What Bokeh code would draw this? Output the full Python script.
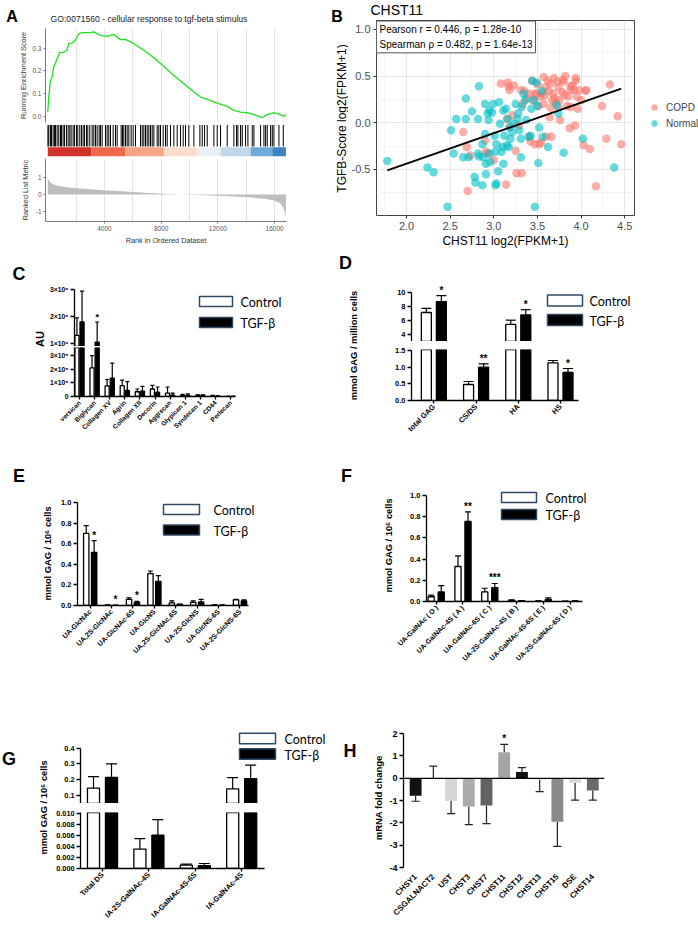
import numpy as np
from bokeh.plotting import figure
from bokeh.layouts import row, column
from bokeh.models import (Range1d, FixedTicker, Label, BoxAnnotation, Span, Legend,
                          LegendItem, Grid)
from bokeh.core.properties import value
from bokeh.embed import file_html
from bokeh.resources import INLINE

FONT = "Liberation Sans"
LEGF = "Lato"

# ---------------- Panel A data (GSEA) ----------------
es_rank = [0, 70, 190, 300, 420, 660, 850, 1130, 1360, 1480, 1720, 1950, 2190, 2420, 3010,
           3250, 3720, 4190, 4660, 5130, 5480, 6070, 6780, 7480, 8190, 8890, 9600, 10310,
           10780, 11250, 11950, 12660, 13130, 13600, 14070, 14540, 15130, 15480, 15950,
           16420, 16660, 16800]
es_score = [0.018, 0.084, 0.157, 0.17, 0.216, 0.253, 0.28, 0.282, 0.29, 0.32, 0.322, 0.334,
            0.363, 0.368, 0.368, 0.371, 0.356, 0.351, 0.36, 0.337, 0.338, 0.319, 0.29, 0.257,
            0.219, 0.179, 0.143, 0.106, 0.084, 0.074, 0.057, 0.043, 0.025, 0.018, 0.015,
            0.007, -0.007, 0.007, 0.015, 0.007, -0.001, 0.007]
hit_rank = [10, 71, 188, 259, 376, 471, 541, 659, 776, 894, 965, 1082, 1177, 1318, 1435,
            1553, 1647, 1788, 1882, 2024, 2118, 2259, 2377, 2494, 2588, 2730, 2824, 2965,
            3130, 3247, 3365, 3482, 3624, 3718, 3835, 4071, 4188, 4306, 4424, 4612, 4776,
            4894, 5177, 5271, 5365, 5482, 5600, 5718, 5882, 6024, 6188, 6541, 6659, 6777,
            6894, 7012, 7130, 7247, 7365, 7483, 7718, 7835, 7953, 8141, 8306, 8424, 8659,
            8895, 9130, 9365, 9553, 9718, 9953, 10306, 10730, 10895, 11060, 11248, 11718,
            11953, 12189, 12659, 13130, 13318, 13412, 13600, 13718, 13953, 14118, 14424,
            14542, 15012, 15248, 15365, 15483, 15718, 15836, 15953, 16306, 16612]
cbar_start = [0, 3059, 5482, 8188, 10542, 12189, 14306, 15836]
cbar_end = [3059, 5482, 8188, 10542, 12189, 14306, 15836, 16800]
cbar_color = ["#D0312A", "#EF6A4D", "#F5A586", "#FBDDCF", "#ECEEF6", "#C0D8EA", "#6EABD8", "#3E82C1"]
metric_rank = [0, 50, 150, 300, 600, 1000, 1500, 2500, 3500, 4500, 5500, 6500, 7500, 8500,
               9500, 10500, 11500, 12500, 13500, 14500, 15500, 16000, 16400, 16600, 16750, 16800]
metric_val = [1.0, 0.85, 0.72, 0.62, 0.52, 0.46, 0.40, 0.33, 0.27, 0.22, 0.17, 0.12, 0.07,
              0.03, 0.0, -0.03, -0.06, -0.09, -0.13, -0.18, -0.27, -0.36, -0.5, -0.75, -1.1, -1.3]
a_rank_ticks = [4000, 8000, 12000, 16000]
a_grid_ticks = [2000, 4000, 6000, 8000, 10000, 12000, 14000, 16000]
a_es_ticks = [0.0, 0.1, 0.2, 0.3]
a_metric_ticks = [-1, 0, 1]

# ---------------- Panel B data (scatter) ----------------
normal_x = [1.78, 2.24, 2.31, 2.47, 2.51, 2.54, 2.57, 2.65, 2.68, 2.68, 2.75, 2.82, 2.83, 2.78,
            2.79, 2.82, 2.83, 2.87, 2.87, 2.90, 2.91, 2.91, 2.93, 2.94, 2.95, 2.96, 2.98, 2.99,
            3.01, 3.02, 3.03, 3.05, 3.06, 3.07, 3.02, 3.09, 3.11, 3.11, 3.12, 3.14, 3.15, 3.16,
            3.17, 3.18, 3.19, 3.21, 3.23, 3.25, 3.27, 3.28, 3.29, 3.31, 3.31, 3.32, 3.34, 3.36,
            3.37, 3.40, 3.42, 3.43, 3.44, 3.46, 3.47, 3.49, 3.50, 3.51, 3.52, 3.55, 3.56, 3.62,
            3.72, 3.74, 3.80, 4.02, 4.38, 3.03, 3.10, 2.90, 2.95, 2.71, 2.88]
normal_y = [-0.41, -0.48, -0.53, -0.90, -0.08, -0.33, 0.04, -0.37, 0.26, 0.04, 0.12, 0.04, 0.39,
            -0.58, -0.64, -0.33, -0.36, -0.67, -0.23, 0.20, -0.44, -0.55, 0.10, 0.03, -0.33,
            -0.42, 0.11, 0.20, -0.14, -0.67, -0.65, -0.52, 0.22, -0.01, -0.31, -0.31, 0.13,
            -0.44, -0.14, 0.15, -0.24, 0.04, -0.26, -0.05, -0.17, -0.10, -0.01, 0.20, 0.04,
            0.10, -0.08, -0.37, -0.17, 0.17, 0.31, 0.24, 0.03, -0.15, -0.14, 0.15, 0.45, 0.24,
            -0.90, 0.43, 0.18, -0.43, -0.05, 0.34, -0.15, -0.26, 0.19, 0.10, -0.32, -0.17,
            -0.48, -0.23, -0.26, -0.12, 0.13, -0.37, -0.37]
copd_x = [2.65, 2.69, 2.70, 2.73, 2.90, 2.91, 2.93, 3.00, 3.08, 3.14, 3.16, 3.17, 3.18, 3.19,
          3.21, 3.23, 3.25, 3.26, 3.29, 3.31, 3.32, 3.33, 3.35, 3.38, 3.40, 3.41, 3.42, 3.44,
          3.45, 3.47, 3.47, 3.49, 3.50, 3.51, 3.52, 3.53, 3.54, 3.55, 3.57, 3.58, 3.59, 3.60,
          3.62, 3.63, 3.64, 3.65, 3.66, 3.67, 3.68, 3.69, 3.70, 3.71, 3.73, 3.74, 3.74, 3.75,
          3.76, 3.78, 3.79, 3.80, 3.81, 3.82, 3.84, 3.85, 3.87, 3.88, 3.88, 3.90, 3.92, 3.93,
          3.94, 3.94, 3.95, 3.96, 3.98, 4.00, 4.03, 4.05, 4.06, 4.10, 4.17, 4.24, 4.29, 4.33,
          4.42, 4.46, 3.57, 3.88, 3.15, 3.65]
copd_y = [-0.10, -0.26, -0.73, -0.35, -0.19, -0.31, -0.33, -0.40, 0.42, -0.66, 0.43, 0.39, 0.35,
          -0.04, 0.08, 0.40, -0.30, -0.54, -0.03, 0.35, -0.54, 0.20, 0.34, 0.26, 0.31, -0.15,
          -0.20, 0.45, 0.24, 0.31, -0.23, 0.31, 0.41, 0.18, -0.23, 0.28, -0.21, 0.32, 0.20,
          0.29, 0.38, -0.15, 0.45, 0.34, 0.06, 0.42, -0.15, 0.24, 0.31, 0.48, 0.26, 0.22, 0.44,
          0.38, 0.17, 0.24, 0.03, 0.33, 0.46, 0.44, 0.30, 0.50, 0.18, 0.28, -0.06, 0.17, 0.35,
          0.40, 0.35, -0.03, 0.48, 0.45, 0.28, 0.15, 0.35, 0.24, -0.24, 0.34, 0.35, -0.28,
          -0.68, 0.18, -0.17, 0.41, 0.07, -0.23, 0.49, 0.39, 0.04, 0.16]
fit_x = [1.78, 4.46]
fit_y = [-0.51, 0.365]
b_xticks = [2.0, 2.5, 3.0, 3.5, 4.0, 4.5]
b_xminor = [1.75, 2.25, 2.75, 3.25, 3.75, 4.25]
b_yticks = [-0.5, 0.0, 0.5, 1.0]
b_yminor = [-0.75, -0.25, 0.25, 0.75]
b_stats = "Pearson r = 0.446, p = 1.28e-10\nSpearman \u03c1 = 0.482, p = 1.64e-13"
b_groups = ["COPD", "Normal"]
b_colors = ["#F8766D", "#00BFC4"]

# ---------------- Panel C data ----------------
c_cats = ["versican", "Biglycan", "Collagen XV", "Agrin", "Collagen XII", "Decorin",
          "Aggrecan", "Glypican 1", "Syndecan 1", "CD44", "Perlecan"]
c_ctrl = [1.3e6, 2.1e5, 0.78e5, 0.8e5, 0.35e5, 0.55e5, 0.25e5, 0.1e5, 0.08e5, 0.06e5, 0.01e5]
c_ctrl_err = [1.95e6, 3.0e5, 1.25e5, 1.2e5, 0.55e5, 0.82e5, 0.7e5, 0.15e5, 0.12e5, 0.09e5, 0.02e5]
c_tgf = [1.8e6, 1.05e6, 1.35e5, 0.45e5, 0.4e5, 0.32e5, 0.1e5, 0.08e5, 0.08e5, 0.02e5, 0.01e5]
c_tgf_err = [2.95e6, 1.8e6, 2.45e5, 1.1e5, 0.75e5, 0.7e5, 0.25e5, 0.2e5, 0.12e5, 0.04e5, 0.015e5]
c_sig = ["", "*", "", "", "", "", "", "", "", "", ""]
c_hi_ticks = [1e6, 2e6, 3e6]
c_hi_labels = ["1\u00d710\u2076", "2\u00d710\u2076", "3\u00d710\u2076"]
c_lo_ticks = [0, 1e5, 2e5, 3e5]
c_lo_labels = ["0", "1\u00d710\u2075", "2\u00d710\u2075", "3\u00d710\u2075"]

# ---------------- Panel D data ----------------
d_cats = ["total GAG", "CS/DS", "HA", "HS"]
d_ctrl = [7.1, 0.48, 5.4, 1.13]
d_ctrl_err = [7.7, 0.57, 6.0, 1.2]
d_tgf = [8.65, 1.0, 6.75, 0.84]
d_tgf_err = [9.5, 1.1, 7.5, 0.96]
d_sig = ["*", "**", "*", "*"]
d_hi_ticks = [4, 6, 8, 10]
d_lo_ticks = [0.0, 0.5, 1.0, 1.5]

# ---------------- Panel E data ----------------
e_cats = ["UA-GlcNAc", "UA,2S-GlcNAc", "UA-GlcNAc-6S", "UA-GlcNS", "UA,2S-GlcNAc,6S",
          "UA-2S-GlcNS", "UA-GlcNS-6S", "UA-2S-GlcNS-6S"]
e_ctrl = [0.70, 0.004, 0.06, 0.31, 0.025, 0.03, 0.005, 0.055]
e_ctrl_err = [0.775, 0.006, 0.075, 0.335, 0.045, 0.045, 0.007, 0.06]
e_tgf = [0.515, 0.002, 0.03, 0.235, 0.01, 0.035, 0.004, 0.045]
e_tgf_err = [0.63, 0.003, 0.04, 0.29, 0.013, 0.06, 0.006, 0.055]
e_sig = ["*", "*", "*", "", "", "", "", ""]
ef_ticks = [0.0, 0.2, 0.4, 0.6, 0.8, 1.0]

# ---------------- Panel F data ----------------
f_cats = ["UA-GalNAc ( O )", "UA-GalNAc-4S ( A )", "UA-GalNAc-6S ( C )",
          "UA-2S-GalNAc-4S ( B )", "UA-GalNAc-4S-6S ( E )", "UA-2S-GalNAc-6S ( D )"]
f_ctrl = [0.045, 0.33, 0.09, 0.01, 0.003, 0.002]
f_ctrl_err = [0.06, 0.43, 0.125, 0.015, 0.005, 0.003]
f_tgf = [0.09, 0.755, 0.13, 0.006, 0.02, 0.004]
f_tgf_err = [0.15, 0.845, 0.17, 0.009, 0.035, 0.006]
f_sig = ["", "**", "***", "", "", ""]

# ---------------- Panel G data ----------------
g_cats = ["Total DS", "IA-2S-GalNAc-4S", "IA-GalNAc-4S-6S", "IA-GalNAc-4S"]
g_ctrl = [0.145, 0.0035, 0.0006, 0.14]
g_ctrl_err = [0.218, 0.0054, 0.0008, 0.212]
g_tgf = [0.213, 0.006, 0.0005, 0.205]
g_tgf_err = [0.30, 0.0088, 0.0009, 0.292]
g_hi_ticks = [0.1, 0.2, 0.3, 0.4]
g_lo_ticks = [0.0, 0.002, 0.004, 0.006, 0.008, 0.010]

# ---------------- Panel H data ----------------
h_genes = ["CHSY1", "CSGALNACT2", "UST", "CHST3", "CHST7", "CHST11", "CHST12", "CHST13",
           "CHST15", "DSE", "CHST14"]
h_val = [-0.78, 0.0, -1.02, -1.27, -1.22, 1.17, 0.28, -0.05, -1.95, -0.2, -0.55]
h_err = [-1.03, 0.55, -1.58, -2.08, -2.03, 1.52, 0.48, -0.6, -3.05, -0.98, -0.98]
h_colors = ["#111111", "#bbbbbb", "#d6d6d6", "#ababab", "#626262", "#a4a4a4", "#111111",
            "#d2d2d2", "#8a8a8a", "#dadada", "#6a6a6a"]
h_sig = ["", "", "", "", "", "*", "", "", "", "", ""]
h_ticks = [-4, -3, -2, -1, 0, 1, 2]


# ---------------- helpers ----------------
def mkfig(w, h, xr, yr, l=0, r=0, t=0, b=0, xaxis=False, yaxis=False):
    p = figure(width=w, height=h, x_range=xr, y_range=yr, title=None,
               output_backend="svg", toolbar_location=None,
               x_axis_location="below" if xaxis else None,
               y_axis_location="left" if yaxis else None,
               min_border_left=l, min_border_right=r, min_border_top=t, min_border_bottom=b)
    p.outline_line_color = None
    p.background_fill_color = "white"
    p.border_fill_color = "white"
    p.grid.visible = False
    return p


def strip(w, h):
    return mkfig(w, h, Range1d(0, 1), Range1d(0, 1))


def lab(p, F, X, Y, text, size, bold=False, color="black", align="center",
        baseline="middle", angle=0, font=FONT, **kw):
    fl, fb = F
    p.add_layout(Label(x=X - fl, y=fb - Y, x_units="screen", y_units="screen", text=text,
                       text_font=font, text_font_size=f"{size}px",
                       text_font_style="bold" if bold else "normal", text_color=color,
                       text_align=align, text_baseline=baseline, angle=angle,
                       angle_units="deg", **kw))


def prism_y(p, ticks, labels, bounds, size):
    ax = p.yaxis[0]
    ax.ticker = FixedTicker(ticks=ticks, minor_ticks=[])
    ax.major_label_overrides = dict(zip(ticks, labels))
    ax.bounds = bounds
    ax.axis_line_width = 1.3
    ax.axis_line_color = "black"
    ax.major_tick_line_width = 1.3
    ax.major_tick_line_color = "black"
    ax.major_tick_in = 0
    ax.major_tick_out = 4
    ax.minor_tick_line_color = None
    ax.major_label_text_font = FONT
    ax.major_label_text_font_style = "bold"
    ax.major_label_text_font_size = f"{size}px"
    ax.major_label_text_color = "black"
    ax.major_label_standoff = 2


def prism_x(p, names, bounds, size, line=True):
    ax = p.xaxis[0]
    ticks = list(range(len(names)))
    ax.ticker = FixedTicker(ticks=ticks, minor_ticks=[])
    ax.major_label_overrides = {i: nm for i, nm in enumerate(names)}
    ax.bounds = bounds
    ax.major_label_orientation = np.pi / 4
    ax.major_label_text_font = FONT
    ax.major_label_text_font_style = "bold"
    ax.major_label_text_font_size = f"{size}px"
    ax.major_label_text_color = "black"
    ax.major_label_standoff = 2
    ax.minor_tick_line_color = None
    if line:
        ax.axis_line_width = 1.3
        ax.axis_line_color = "black"
        ax.major_tick_line_width = 1.3
        ax.major_tick_line_color = "black"
        ax.major_tick_in = 0
        ax.major_tick_out = 3
    else:
        ax.axis_line_color = None
        ax.major_tick_line_color = None


def draw_bars(p, ctrl, cerr, tgf, terr, off, w, cap, lo, hi, sig=None, sig_size=10):
    idx = np.arange(len(ctrl))
    groups = ((idx - off, ctrl, cerr, "white", None), (idx + off, tgf, terr, "black", sig))
    for xs, v, e, fill, sg in groups:
        v = np.asarray(v, float)
        e = np.asarray(e, float)
        ms = (e > lo) & (v < hi)
        mc = (e > lo) & (e < hi)
        mb = v > lo
        p.segment(x0=xs[ms], y0=v[ms], x1=xs[ms], y1=e[ms], line_color="black", line_width=1.2)
        p.scatter(x=xs[mc], y=e[mc], marker="dash", size=cap, line_color="black",
                  line_width=1.2)
        p.vbar(x=xs[mb], top=v[mb], bottom=0, width=w, fill_color=fill, line_color="black",
               line_width=1.3)
        if sg is not None:
            sg = np.asarray(sg)
            mt = mc & (sg != "")
            if mt.any():
                p.text(x=xs[mt], y=e[mt], text=list(sg[mt]), text_font=value(FONT),
                       text_font_style="bold", text_font_size=f"{sig_size}px",
                       text_align="center", text_baseline="bottom", text_color="black")


def prism_legend(p, F, x0, x1, yc1, yc2, h, tx, size=12.5):
    fl, fb = F
    for yc, fill, txt in ((yc1, "white", "Control"), (yc2, "black", "TGF-\u03b2")):
        p.add_layout(BoxAnnotation(left=x0 - fl, right=x1 - fl, top=fb - (yc - h / 2),
                                   bottom=fb - (yc + h / 2), left_units="screen",
                                   right_units="screen", top_units="screen",
                                   bottom_units="screen", fill_color=fill, fill_alpha=1,
                                   line_color="#2f4a66", line_alpha=1, line_width=1.5))
        lab(p, F, tx, yc + 1, txt, size, font=LEGF, align="left")


def style_gg(ax, size="6.5px", color="#555555", lcolor="#7a7a7a", out=2):
    ax.axis_line_color = lcolor
    ax.major_tick_line_color = lcolor
    ax.major_tick_in = 0
    ax.major_tick_out = out
    ax.minor_tick_line_color = None
    ax.major_label_text_font = FONT
    ax.major_label_text_font_size = size
    ax.major_label_text_color = color
    ax.major_label_standoff = 2
    ax.axis_label_text_font = FONT
    ax.axis_label_text_font_style = "normal"


W = column  # wrapper so that sibling plots are not frame-aligned

# ================= Panel A =================
At = strip(326, 27)
FAt = (0, 27)
lab(At, FAt, 11.5, 16, "A", 16, bold=True)
lab(At, FAt, 148.5, 18.5, "GO:0071560 - cellular response to tgf-beta stimulus", 8.6,
    color="#222222")

xrA = Range1d(-160, 16840)
A1 = mkfig(326, 96, xrA, Range1d(-0.028, 0.386), l=45, r=40, t=1, b=1, yaxis=True)
A1.add_layout(Grid(dimension=0, ticker=FixedTicker(ticks=a_grid_ticks),
                   grid_line_color="#E3E3E3"))
A1.line(es_rank, es_score, line_color="#1EE01E", line_width=1.3)
A1.yaxis[0].ticker = FixedTicker(ticks=a_es_ticks, minor_ticks=[])
A1.yaxis[0].major_label_overrides = {t: f"{t:.1f}" for t in a_es_ticks}
style_gg(A1.yaxis[0])
A1.yaxis[0].axis_label = "Running Enrichment Score"
A1.yaxis[0].axis_label_text_font_size = "7.3px"
A1.yaxis[0].axis_label_text_color = "#333333"
A1.yaxis[0].axis_label_standoff = 1

A2 = mkfig(326, 34, xrA, Range1d(0, 32), l=45, r=40, t=1, b=1)
A2.segment(x0=hit_rank, y0=10, x1=hit_rank, y1=31.5, line_color="black", line_width=1)
A2.quad(left=cbar_start, right=cbar_end, bottom=0, top=9.3, fill_color=cbar_color,
        line_color=None)

A3 = mkfig(326, 93, xrA, Range1d(-1.56, 2.08), l=45, r=40, t=1, b=29, xaxis=True, yaxis=True)
A3.add_layout(Grid(dimension=0, ticker=FixedTicker(ticks=a_grid_ticks),
                   grid_line_color="#E3E3E3"))
A3.varea(x=metric_rank, y1=0, y2=metric_val, fill_color="#BEBEBE")
A3.xaxis[0].ticker = FixedTicker(ticks=a_rank_ticks, minor_ticks=[])
A3.yaxis[0].ticker = FixedTicker(ticks=a_metric_ticks, minor_ticks=[])
A3.yaxis[0].major_label_overrides = {t: str(t) for t in a_metric_ticks}
style_gg(A3.xaxis[0])
style_gg(A3.yaxis[0])
A3.yaxis[0].axis_label = "Ranked List Metric"
A3.yaxis[0].axis_label_text_font_size = "7.3px"
A3.yaxis[0].axis_label_text_color = "#333333"
A3.yaxis[0].axis_label_standoff = 3
A3.xaxis[0].axis_label = "Rank in Ordered Dataset"
A3.xaxis[0].axis_label_text_font_size = "7.3px"
A3.xaxis[0].axis_label_text_color = "#333333"
A3.xaxis[0].axis_label_standoff = 2

# ================= Panel B =================
Bl = strip(22, 250)
FBl = (326, 250)
lab(Bl, FBl, 336.5, 16, "B", 16, bold=True)
lab(Bl, FBl, 341, 118, "TGFB-Score log2(FPKM+1)", 12, angle=90)

Bt = strip(292, 20)
FBt = (348, 20)
lab(Bt, FBt, 370, 9, "CHST11", 14, align="left")

B = mkfig(292, 230, Range1d(1.656, 4.612), Range1d(-0.993, 1.095), l=22, r=6, t=0, b=35,
          xaxis=True, yaxis=True)
FB = (370, 215)
B.outline_line_color = "#444444"
B.outline_line_width = 1
B.xaxis[0].ticker = FixedTicker(ticks=b_xticks, minor_ticks=b_xminor)
B.xaxis[0].major_label_overrides = {t: f"{t:.1f}" for t in b_xticks}
B.yaxis[0].ticker = FixedTicker(ticks=b_yticks, minor_ticks=b_yminor)
B.yaxis[0].major_label_overrides = {t: f"{t:.1f}" for t in b_yticks}
for ax in (B.xaxis[0], B.yaxis[0]):
    style_gg(ax, size="11px", color="#4D4D4D", lcolor="#333333", out=3)
    ax.axis_line_color = None
B.xaxis[0].axis_label = "CHST11 log2(FPKM+1)"
B.xaxis[0].axis_label_text_font_size = "12px"
B.xaxis[0].axis_label_text_color = "black"
B.xaxis[0].axis_label_standoff = 1
for g in (B.xgrid[0], B.ygrid[0]):
    g.visible = True
    g.grid_line_color = "#E6E6E6"
    g.grid_line_width = 1
    g.minor_grid_line_color = "#F0F0F0"
    g.minor_grid_line_width = 0.7
B.scatter(copd_x, copd_y, size=8.5, fill_color=b_colors[0], fill_alpha=0.6, line_color=None)
B.scatter(normal_x, normal_y, size=8.5, fill_color=b_colors[1], fill_alpha=0.6, line_color=None)
B.line(fit_x, fit_y, line_color="black", line_width=1.8)
lab(B, FB, 370, 20.5, b_stats, 10, align="left", baseline="top",
    background_fill_color="white", border_line_color="#555555", padding=3,
    text_line_height=1.35)

# legend strip: proxy renderers (NaN, never visible) carry the legend glyph styles
Bg = strip(58, 250)
proxies = [Bg.scatter(x=[np.nan], y=[np.nan], size=8.5, fill_color=c, fill_alpha=0.6,
                      line_color=None) for c in b_colors]
Bg.add_layout(Legend(items=[LegendItem(label=g, renderers=[r], index=0)
                            for g, r in zip(b_groups, proxies)],
                     location=(6, 119), orientation="vertical", padding=0, spacing=0,
                     margin=0, glyph_height=16, glyph_width=16, label_height=16,
                     label_standoff=4, label_text_font=FONT, label_text_font_size="10px",
                     background_fill_alpha=0, border_line_color=None))

# ================= Panel C =================
Cs = strip(46, 200)
FCs = (0, 450)
lab(Cs, FCs, 18.5, 273.5, "C", 18, bold=True)
lab(Cs, FCs, 39.5, 338.5, "AU", 11, bold=True, angle=90)

xrC = Range1d(-0.33, 16.62)
C_hi = (0.8885e6, 4.457e6)
C_lo = (0, 3.603e5)
Cu = mkfig(284, 96, xrC, Range1d(*C_hi), l=28, yaxis=True)
FCu = (74, 346)
draw_bars(Cu, c_ctrl, c_ctrl_err, c_tgf, c_tgf_err, 0.17, 0.27, 4, C_hi[0], C_hi[1], c_sig, 9)
prism_y(Cu, c_hi_ticks, c_hi_labels, (C_hi[0], 3e6), 6.8)
prism_legend(Cu, FCu, 199, 232, 301, 322, 10, 240)

Cl = mkfig(284, 104, xrC, Range1d(*C_lo), l=28, t=1, b=54, xaxis=True, yaxis=True)
draw_bars(Cl, c_ctrl, c_ctrl_err, c_tgf, c_tgf_err, 0.17, 0.27, 4, -1, C_lo[1], c_sig, 9)
prism_y(Cl, c_lo_ticks, c_lo_labels, C_lo, 6.8)
prism_x(Cl, c_cats, (-0.33, 10.33), 6.5)

# ================= Panel D =================
Ds = strip(30, 200)
FDs = (330, 450)
lab(Ds, FDs, 345, 262, "D", 18, bold=True)
lab(Ds, FDs, 353, 345, "mmol GAG / million cells", 9.3, bold=True, angle=90)

xrD = Range1d(-0.53, 6.27)
D_hi = (2.957, 15.96)
D_lo = (0, 1.53)
Du = mkfig(338, 91, xrD, Range1d(*D_hi), l=51, yaxis=True)
FDu = (411, 341)
draw_bars(Du, d_ctrl, d_ctrl_err, d_tgf, d_tgf_err, 0.178, 0.237, 10, D_hi[0], D_hi[1], d_sig, 10)
prism_y(Du, d_hi_ticks, [str(t) for t in d_hi_ticks], (D_hi[0], 10), 7.5)
prism_legend(Du, FDu, 547, 582, 300, 319.5, 11, 589)

Dl = mkfig(338, 109, xrD, Range1d(*D_lo), l=51, t=8, b=50, xaxis=True, yaxis=True)
draw_bars(Dl, d_ctrl, d_ctrl_err, d_tgf, d_tgf_err, 0.178, 0.237, 10, -1, D_lo[1], d_sig, 10)
prism_y(Dl, d_lo_ticks, [f"{t:.1f}" for t in d_lo_ticks], (0, 1.5), 7.5)
prism_x(Dl, d_cats, (-0.53, 3.43), 7.5)

# ================= Panel E =================
Es = strip(57, 240)
FEs = (0, 690)
lab(Es, FEs, 18.5, 475, "E", 18, bold=True)
lab(Es, FEs, 47.5, 553, "mmol GAG / 10\u2076 cells", 9.3, bold=True, angle=90)

E = mkfig(273, 240, Range1d(-0.593, 11.23), Range1d(0, 1.505), l=20, b=85,
          xaxis=True, yaxis=True)
FE = (77, 605)
draw_bars(E, e_ctrl, e_ctrl_err, e_tgf, e_tgf_err, 0.185, 0.25, 5, -1, 1.505, e_sig, 10)
prism_y(E, ef_ticks, [f"{t:.1f}" for t in ef_ticks], (0, 1.0), 7.5)
prism_x(E, e_cats, (-0.593, 7.4), 7)
prism_legend(E, FE, 163, 199, 509, 529.5, 10, 213)

# ================= Panel F =================
Fs = strip(66, 240)
FFs = (330, 690)
lab(Fs, FFs, 346, 475, "F", 18, bold=True)
lab(Fs, FFs, 388, 545, "mmol GAG / 10\u2076 cells", 9.3, bold=True, angle=90)

Fp = mkfig(302, 240, Range1d(-0.362, 9.79), Range1d(0, 1.4245), l=30, b=89,
           xaxis=True, yaxis=True)
FF = (426, 601)
draw_bars(Fp, f_ctrl, f_ctrl_err, f_tgf, f_tgf_err, 0.187, 0.23, 6, -1, 1.4245, f_sig, 10)
prism_y(Fp, ef_ticks, [f"{t:.1f}" for t in ef_ticks], (0, 1.0), 7.5)
prism_x(Fp, f_cats, (-0.362, 5.46), 7)
prism_legend(Fp, FF, 501, 536, 497, 514, 10, 545)

# ================= Panel G =================
Gs = strip(52, 241)
FGs = (0, 931)
lab(Gs, FGs, 8.5, 758.5, "G", 18, bold=True)
lab(Gs, FGs, 43.5, 807, "mmol GAG / 10\u2076 cells", 9.3, bold=True, angle=90)

xrG = Range1d(-0.474, 4.914)
G_hi = (0.0471, 0.7669)
G_lo = (0, 0.0101)
Gu = mkfig(278, 113, xrG, Range1d(*G_hi), l=28, yaxis=True)
FGu = (80, 803)
draw_bars(Gu, g_ctrl, g_ctrl_err, g_tgf, g_tgf_err, 0.194, 0.26, 11, G_hi[0], G_hi[1])
prism_y(Gu, g_hi_ticks, [f"{t:.1f}" for t in g_hi_ticks], (G_hi[0], 0.4), 7.3)
prism_legend(Gu, FGu, 239, 275, 738, 753.5, 10.5, 284)

Gl = mkfig(278, 128, xrG, Range1d(*G_lo), l=28, t=9, b=63, xaxis=True, yaxis=True)
draw_bars(Gl, g_ctrl, g_ctrl_err, g_tgf, g_tgf_err, 0.194, 0.26, 11, -1, G_lo[1])
prism_y(Gl, g_lo_ticks, [f"{t:.3f}" for t in g_lo_ticks], G_lo, 7.3)
prism_x(Gl, g_cats, (-0.474, 3.5), 7.5)

# ================= Panel H =================
Hs = strip(56, 241)
FHs = (330, 931)
lab(Hs, FHs, 349.5, 750, "H", 18, bold=True)
lab(Hs, FHs, 378, 796, "mRNA  fold change", 9.5, bold=True, angle=90)

H = mkfig(312, 241, Range1d(-0.685, 10.66), Range1d(-4.0, 3.937), l=16, r=94, b=64,
          xaxis=True, yaxis=True)
hx = np.arange(len(h_genes))
H.segment(x0=hx, y0=h_val, x1=hx, y1=h_err, line_color="#222222", line_width=1.2)
H.scatter(x=hx, y=h_err, marker="dash", size=8, line_color="#222222", line_width=1.2)
H.vbar(x=hx, top=h_val, bottom=0, width=0.67, fill_color=h_colors, line_color=None)
H.add_layout(Span(location=0, dimension="width", line_color="black", line_width=1.3))
H.text(x=hx, y=h_err, text=h_sig, text_font=value(FONT), text_font_style="bold",
       text_font_size="10px", text_align="center", text_baseline="bottom")
prism_y(H, h_ticks, [str(t) for t in h_ticks], (-4, 2), 9)
prism_x(H, h_genes, (-0.685, 10.66), 8, line=False)

# ================= layout =================
layout = column(
    row(column(W(At), W(A1), W(A2), W(A3)), W(Bl), column(W(Bt), W(B)), W(Bg)),
    row(W(Cs), column(W(Cu), W(Cl)), W(Ds), column(W(Du), W(Dl))),
    row(W(Es), W(E), W(Fs), W(Fp)),
    row(W(Gs), column(W(Gu), W(Gl)), W(Hs), W(H)),
)

open("out.html", "w").write(file_html(layout, INLINE))
